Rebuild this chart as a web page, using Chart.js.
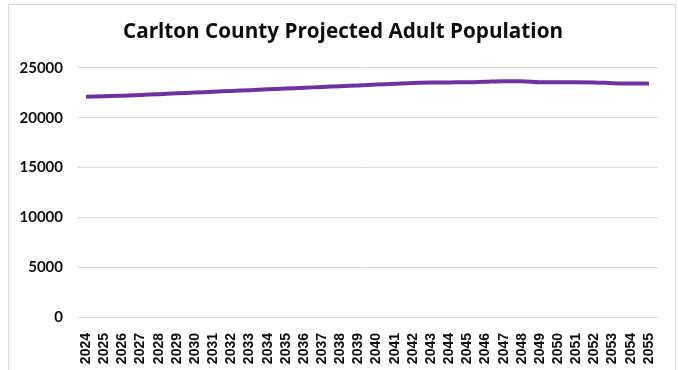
<!DOCTYPE html>
<html>
<head>
<meta charset="utf-8">
<script src="https://cdn.jsdelivr.net/npm/chart.js@4"></script>
<style>
  html, body { margin: 0; padding: 0; background: #fff; }
  #wrap { position: relative; width: 678px; height: 370px; overflow: hidden; }
  #frame { position: absolute; left: 8px; top: 4px; width: 668px; height: 400px; border: 1px solid #d9d9d9; box-sizing: border-box; }
  canvas { position: absolute; left: 0; top: 0; }
</style>
</head>
<body>
<div id="wrap">
  <div id="frame"></div>
  <canvas id="popChart" width="678" height="370"></canvas>
</div>
<script>
// years on the x axis
const years = [
  "2024", "2025", "2026", "2027", "2028", "2029", "2030", "2031",
  "2032", "2033", "2034", "2035", "2036", "2037", "2038", "2039",
  "2040", "2041", "2042", "2043", "2044", "2045", "2046", "2047",
  "2048", "2049", "2050", "2051", "2052", "2053", "2054", "2055"
];

// projected adult population
const adultPop = [
  22100, 22150, 22200, 22280, 22360, 22440, 22520, 22600,
  22680, 22760, 22840, 22920, 23000, 23080, 23160, 23240,
  23320, 23400, 23480, 23520, 23540, 23550, 23600, 23650,
  23650, 23550, 23550, 23550, 23540, 23450, 23430, 23430
];

const yTicks = [0, 5000, 10000, 15000, 20000, 25000];

const ctx = document.getElementById("popChart").getContext("2d");

new Chart(ctx, {
  type: "line",
  data: {
    labels: years,
    datasets: [
      {
        label: "Adult Population",
        data: adultPop,
        borderColor: "#7030a0",
        borderWidth: 4,
        pointRadius: 0,
        fill: false,
        tension: 0.4,
        cubicInterpolationMode: "monotone",
      },
    ],
  },
  options: {
    responsive: false,
    animation: false,
    layout: { padding: { left: 12, right: 4, top: 0, bottom: 0 } },
    plugins: {
      legend: { display: false },
      tooltip: { enabled: false },
      title: {
        display: true,
        text: "Carlton County Projected Adult Population",
        color: "#0d0d0d",
        font: { family: "Open Sans", size: 20.7, weight: "bold" },
        padding: { top: 20, bottom: 23 },
      },
    },
    scales: {
      x: {
        offset: true,
        grid: { display: false },
        border: { display: false },
        ticks: {
          color: "#0d0d0d",
          autoSkip: false,
          minRotation: 90,
          maxRotation: 90,
          padding: 8,
          font: { family: "Liberation Sans", size: 14, weight: "bold" },
        },
        afterFit: (scale) => { scale.height = 53; },
      },
      y: {
        min: 0,
        max: 25000,
        afterBuildTicks: (scale) => {
          scale.ticks = yTicks.map(v => ({ value: v }));
        },
        grid: { color: "#d9d9d9", lineWidth: 1, drawTicks: false },
        border: { display: false },
        ticks: {
          color: "#0d0d0d",
          padding: 14,
          font: { family: "Lato", size: 15, weight: "bold" },
          callback: (value) => String(value),
        },
        afterFit: (scale) => { scale.width = 65; },
      },
      // empty right-hand spacer so the title sits centred on the frame
      spacer: {
        position: "right",
        grid: { display: false },
        border: { display: false },
        ticks: { display: false },
        afterFit: (scale) => { scale.width = 16; },
      },
    },
  },
});
</script>
</body>
</html>
